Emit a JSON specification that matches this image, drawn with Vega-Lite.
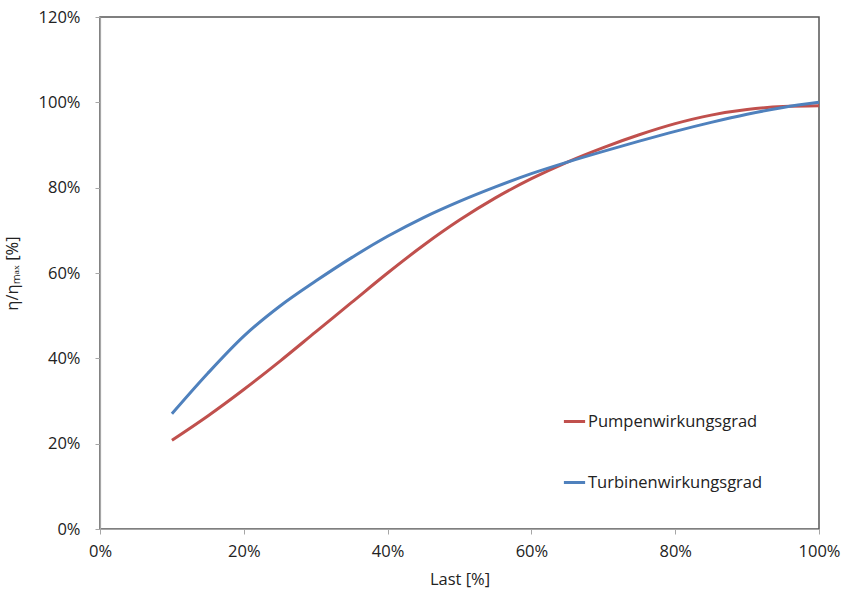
{
  "$schema": "https://vega.github.io/schema/vega-lite/v6.json",
  "width": 719,
  "height": 512,
  "autosize": {"type": "none"},
  "padding": {"left": 100, "top": 17, "right": 23, "bottom": 70},
  "background": "white",
  "config": {
    "font": "Open Sans",
    "view": {"stroke": "#555555", "strokeWidth": 1.5},
    "axis": {
      "grid": false,
      "domainColor": "#a6a6a6",
      "domainWidth": 1.2,
      "tickColor": "#a6a6a6",
      "tickSize": 5,
      "labelFont": "Open Sans",
      "labelFontSize": 16.5,
      "labelColor": "#222222",
      "labelFlush": false,
      "labelOverlap": false,
      "titleFont": "Open Sans",
      "titleFontSize": 16.5,
      "titleFontWeight": "normal",
      "titleColor": "#222222"
    }
  },
  "data": {
    "values": [
      {"Last": 0.10, "eta": 0.208, "Serie": "Pumpenwirkungsgrad"},
      {"Last": 0.15, "eta": 0.265, "Serie": "Pumpenwirkungsgrad"},
      {"Last": 0.20, "eta": 0.327, "Serie": "Pumpenwirkungsgrad"},
      {"Last": 0.25, "eta": 0.393, "Serie": "Pumpenwirkungsgrad"},
      {"Last": 0.30, "eta": 0.462, "Serie": "Pumpenwirkungsgrad"},
      {"Last": 0.35, "eta": 0.531, "Serie": "Pumpenwirkungsgrad"},
      {"Last": 0.40, "eta": 0.600, "Serie": "Pumpenwirkungsgrad"},
      {"Last": 0.45, "eta": 0.665, "Serie": "Pumpenwirkungsgrad"},
      {"Last": 0.50, "eta": 0.724, "Serie": "Pumpenwirkungsgrad"},
      {"Last": 0.55, "eta": 0.776, "Serie": "Pumpenwirkungsgrad"},
      {"Last": 0.60, "eta": 0.821, "Serie": "Pumpenwirkungsgrad"},
      {"Last": 0.65, "eta": 0.860, "Serie": "Pumpenwirkungsgrad"},
      {"Last": 0.70, "eta": 0.894, "Serie": "Pumpenwirkungsgrad"},
      {"Last": 0.75, "eta": 0.924, "Serie": "Pumpenwirkungsgrad"},
      {"Last": 0.80, "eta": 0.950, "Serie": "Pumpenwirkungsgrad"},
      {"Last": 0.85, "eta": 0.970, "Serie": "Pumpenwirkungsgrad"},
      {"Last": 0.90, "eta": 0.983, "Serie": "Pumpenwirkungsgrad"},
      {"Last": 0.95, "eta": 0.990, "Serie": "Pumpenwirkungsgrad"},
      {"Last": 1.00, "eta": 0.992, "Serie": "Pumpenwirkungsgrad"},
      {"Last": 0.10, "eta": 0.270, "Serie": "Turbinenwirkungsgrad"},
      {"Last": 0.15, "eta": 0.365, "Serie": "Turbinenwirkungsgrad"},
      {"Last": 0.20, "eta": 0.452, "Serie": "Turbinenwirkungsgrad"},
      {"Last": 0.25, "eta": 0.522, "Serie": "Turbinenwirkungsgrad"},
      {"Last": 0.30, "eta": 0.581, "Serie": "Turbinenwirkungsgrad"},
      {"Last": 0.35, "eta": 0.636, "Serie": "Turbinenwirkungsgrad"},
      {"Last": 0.40, "eta": 0.686, "Serie": "Turbinenwirkungsgrad"},
      {"Last": 0.45, "eta": 0.730, "Serie": "Turbinenwirkungsgrad"},
      {"Last": 0.50, "eta": 0.768, "Serie": "Turbinenwirkungsgrad"},
      {"Last": 0.55, "eta": 0.802, "Serie": "Turbinenwirkungsgrad"},
      {"Last": 0.60, "eta": 0.833, "Serie": "Turbinenwirkungsgrad"},
      {"Last": 0.65, "eta": 0.860, "Serie": "Turbinenwirkungsgrad"},
      {"Last": 0.70, "eta": 0.885, "Serie": "Turbinenwirkungsgrad"},
      {"Last": 0.75, "eta": 0.909, "Serie": "Turbinenwirkungsgrad"},
      {"Last": 0.80, "eta": 0.932, "Serie": "Turbinenwirkungsgrad"},
      {"Last": 0.85, "eta": 0.953, "Serie": "Turbinenwirkungsgrad"},
      {"Last": 0.90, "eta": 0.972, "Serie": "Turbinenwirkungsgrad"},
      {"Last": 0.95, "eta": 0.988, "Serie": "Turbinenwirkungsgrad"},
      {"Last": 1.00, "eta": 1.000, "Serie": "Turbinenwirkungsgrad"}
    ]
  },
  "mark": {"type": "line", "interpolate": "monotone", "strokeWidth": 3},
  "encoding": {
    "x": {
      "field": "Last",
      "type": "quantitative",
      "scale": {"domain": [0, 1], "nice": false},
      "axis": {"format": ".0%", "values": [0, 0.2, 0.4, 0.6, 0.8, 1.0], "title": "Last [%]", "labelPadding": 9, "titlePadding": 12}
    },
    "y": {
      "field": "eta",
      "type": "quantitative",
      "scale": {"domain": [0, 1.2], "nice": false},
      "axis": {"format": ".0%", "values": [0, 0.2, 0.4, 0.6, 0.8, 1.0, 1.2], "title": "η/ηₘₐₓ [%]", "labelPadding": 15, "titlePadding": 18}
    },
    "color": {
      "field": "Serie",
      "type": "nominal",
      "scale": {"domain": ["Pumpenwirkungsgrad", "Turbinenwirkungsgrad"], "range": ["#C0504D", "#4F81BD"]},
      "legend": {
        "title": null,
        "orient": "none",
        "legendX": 462,
        "legendY": 392,
        "symbolType": "stroke",
        "symbolStrokeWidth": 3,
        "symbolSize": 450,
        "labelFont": "Open Sans",
        "labelFontSize": 16.5,
        "labelColor": "#222222",
        "labelLimit": 0,
        "rowPadding": 40,
        "labelOffset": 1
      }
    }
  }
}
